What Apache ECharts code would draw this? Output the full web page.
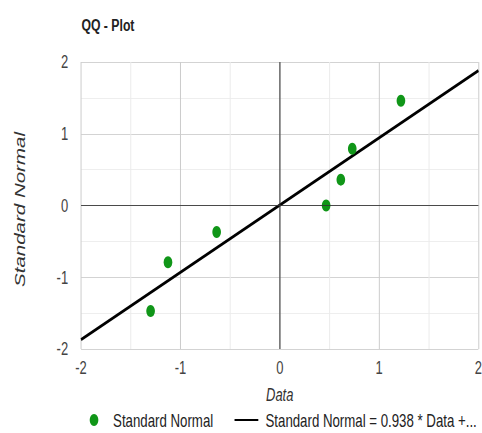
<!DOCTYPE html>
<html>
<head>
<meta charset="utf-8">
<script src="https://cdn.jsdelivr.net/npm/echarts@6/dist/echarts.min.js"></script>
<style>
  html, body { margin: 0; padding: 0; width: 482px; height: 433px; overflow: hidden; background: #fff; }
  #wrap { width: 482px; height: 433px; overflow: hidden; }
  #chart { width: 669px; height: 433px; transform: scaleX(0.7205); transform-origin: 0 0; }
</style>
</head>
<body>
<div id="wrap"><div id="chart"></div></div>
<script>
// ---- data ----
const titleText = 'QQ - Plot';
const xAxisName = 'Data';
const yAxisName = 'Standard Normal';
const scatterName = 'Standard Normal';
const lineName = 'Standard Normal = 0.938 * Data +...';
const dataValues = [-1.30, -1.125, -0.635, 0.467, 0.615, 0.73, 1.22];
const normalQuantiles = [-1.47, -0.79, -0.37, 0.0, 0.36, 0.79, 1.46];
const fitX = [-2, 2];
const fitY = [-1.87, 1.88];
const axisMin = -2, axisMax = 2, axisStep = 1;

const font = '"Liberation Sans", Arial, sans-serif';
const scatterData = dataValues.map((x, i) => [x, normalQuantiles[i]]);
const lineData = fitX.map((x, i) => [x, fitY[i]]);

// vertical lines are squeezed by the horizontal scale, so they get a slightly wider stroke
function valueAxis(name, isX) {
  const w = isX ? 1.39 : 1;
  return {
    type: 'value', min: axisMin, max: axisMax, interval: axisStep,
    name: name, nameLocation: 'middle', nameGap: isX ? 37 : 75,
    nameTextStyle: isX
      ? { fontFamily: font, fontStyle: 'italic', fontSize: 18, color: '#333' }
      : { fontFamily: font, fontStyle: 'italic', fontSize: 20.5, color: '#333', padding: [0, 8, 0, 0] },
    axisLine: { show: false }, axisTick: { show: false },
    axisLabel: { fontFamily: font, fontSize: 18, color: '#444', margin: isX ? 10 : 18 },
    splitLine: { show: true, lineStyle: { color: '#cccccc', width: w } },
    minorTick: { show: false, splitNumber: 2 },
    minorSplitLine: { show: true, lineStyle: { color: '#ebebeb', width: w } }
  };
}

const chart = echarts.init(document.getElementById('chart'), null, { renderer: 'svg' });
chart.setOption({
  animation: false,
  backgroundColor: '#fff',
  title: { text: titleText, left: 108, top: 12, textStyle: { fontFamily: font, fontSize: 17, fontWeight: 'bold', color: '#222' } },
  grid: { left: 112.5, right: 5, top: 62, bottom: 84, containLabel: false, outerBoundsMode: 'none' },
  xAxis: valueAxis(xAxisName, true),
  yAxis: valueAxis(yAxisName, false),
  legend: {
    left: 119.5, top: 406, width: 550, itemWidth: 33, itemHeight: 12, itemGap: 28.5,
    textStyle: { fontFamily: font, fontSize: 18.4, color: '#222', padding: [0, 0, 0, 5] },
    data: [{ name: scatterName, icon: 'circle' }, { name: lineName }]
  },
  series: [
    {
      name: lineName, type: 'line', data: lineData, symbol: 'none', z: 3,
      lineStyle: { color: '#000', width: 3 }, itemStyle: { color: '#000', opacity: 0 },
      markLine: {
        silent: true, symbol: 'none', label: { show: false },
        lineStyle: { color: '#333', width: 1, type: 'solid', opacity: 1 },
        data: [{ xAxis: 0, lineStyle: { width: 1.39 } }, { yAxis: 0 }]
      }
    },
    {
      name: scatterName, type: 'scatter', data: scatterData, z: 4,
      symbol: 'circle', symbolSize: 12,
      itemStyle: { color: '#109618', opacity: 1 }
    }
  ]
});
</script>
</body>
</html>
